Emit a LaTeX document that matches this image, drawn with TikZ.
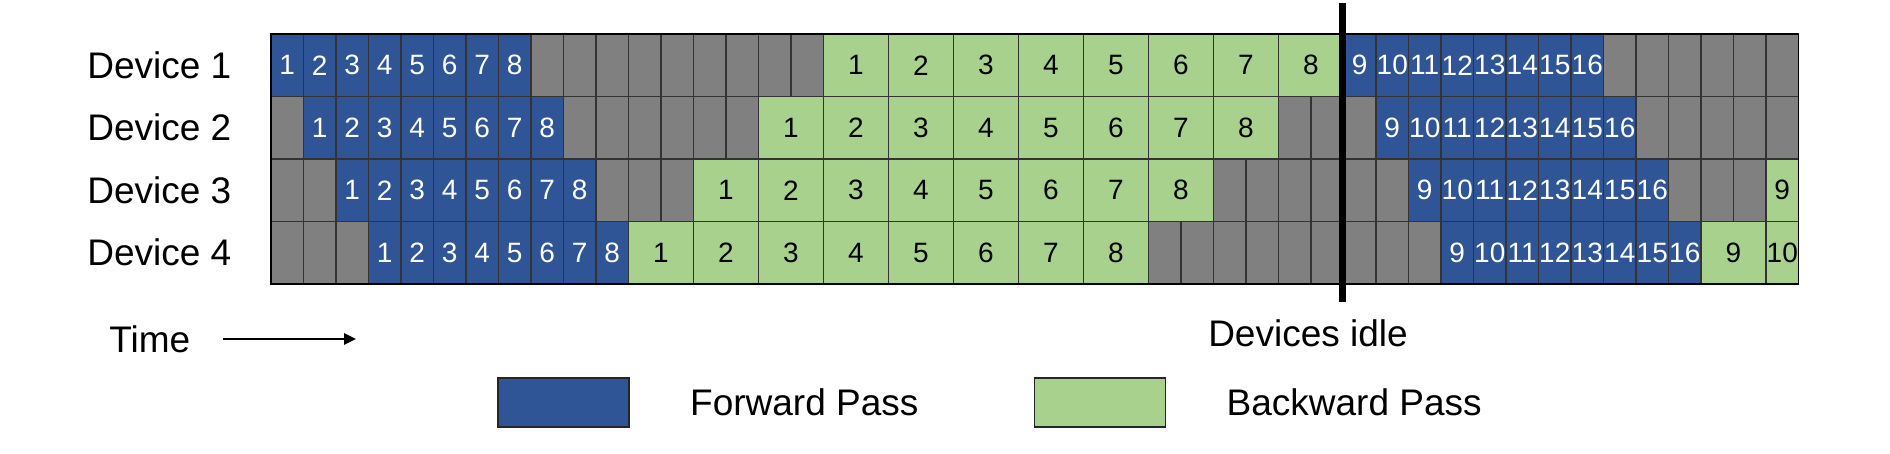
\documentclass[tikz,border=0pt]{standalone}
\usepackage{fontspec}
\setmainfont{Liberation Sans}
\usetikzlibrary{arrows.meta,positioning}
\definecolor{fwdblue}{HTML}{2F5597}
\definecolor{bwdgreen}{HTML}{A9D18E}
\definecolor{idlegray}{HTML}{808080}
\newcommand{\cellfont}{\fontsize{14}{16}\selectfont}
\newcommand{\labelfont}{\fontsize{18.5}{22}\selectfont}
\tikzstyle{cell} = [draw=black!80, line width=0.65pt, inner sep=0pt, minimum height=31.25pt, minimum width=16.25pt, font=\cellfont]
\tikzstyle{idle} = [cell, fill=idlegray]
\tikzstyle{fwd} = [cell, fill=fwdblue, text=white]
\tikzstyle{bwd} = [cell, fill=bwdgreen, text=black]
\tikzstyle{bwdwide} = [bwd, minimum width=32.5pt]
\tikzstyle{devlabel} = [font=\labelfont, inner sep=0pt, anchor=west]
\tikzstyle{legendbox} = [draw=black!85, line width=0.75pt, minimum width=65.5pt, minimum height=24.5pt, inner sep=0pt]
\tikzstyle{timearrow} = [line width=1.3pt, -{Triangle[length=6pt,width=5.5pt]}]

\begin{document}
\begin{tikzpicture}[x=0.5pt, y=-0.5pt]
		\useasboundingbox (0,0) rectangle (1890,454);
		\foreach \row in {1,...,4}{
			\node[devlabel] (dev\row) at (87, {34+62.5*(\row-0.5)}) {Device \row};
			\foreach \u in {0,...,46}
				\node[idle] (idle-\row-\u) at ({271+32.5*(\u+0.5)}, {34+62.5*(\row-0.5)}) {};
			\foreach \k in {1,...,8}{
				\pgfmathtruncatemacro\kk{\k+8}
				\node[fwd] (f-\row-\k) at ({271+32.5*(\row+\k-1.5)}, {34+62.5*(\row-0.5)}) {\k};
				\node[bwdwide] (b-\row-\k) at ({271+32.5*(18-2*\row+2*\k)}, {34+62.5*(\row-0.5)}) {\k};
				\node[fwd] (f-\row-\kk) at ({271+32.5*(32+\row+\k-0.5)}, {34+62.5*(\row-0.5)}) {\kk};
			}
		}
		\node[bwd] (b-3-9) at ({271+32.5*46.5}, {34+62.5*2.5}) {9};
		\node[bwdwide] (b-4-9) at ({271+32.5*45}, {34+62.5*3.5}) {9};
		\node[bwd] (b-4-10) at ({271+32.5*46.5}, {34+62.5*3.5}) {10};
		\draw[black, line width=0.9pt] (271,34) rectangle (1798.5,284);

		\coordinate (idletop) at (1342,3);
		\coordinate (idlebot) at (1342,302);
		\draw[line width=3.5pt] (idletop) -- (idlebot);
		\node[devlabel, anchor=center] (idle) at (1308,333) {Devices idle};

		\node[devlabel] (time) at (109,339) {Time};
		\coordinate (timeend) at (356,339);
		\draw[timearrow] ([xshift=16pt]time.east) -- (timeend);

		\node[legendbox, fill=fwdblue] (fwdkey) at (563.5,402.5) {};
		\node[devlabel, right=30pt of fwdkey] (fwdtext) {Forward Pass};
		\node[legendbox, fill=bwdgreen, right=57.5pt of fwdtext] (bwdkey) {};
		\node[devlabel, right=30pt of bwdkey] (bwdtext) {Backward Pass};
	\end{tikzpicture}
\end{document}
